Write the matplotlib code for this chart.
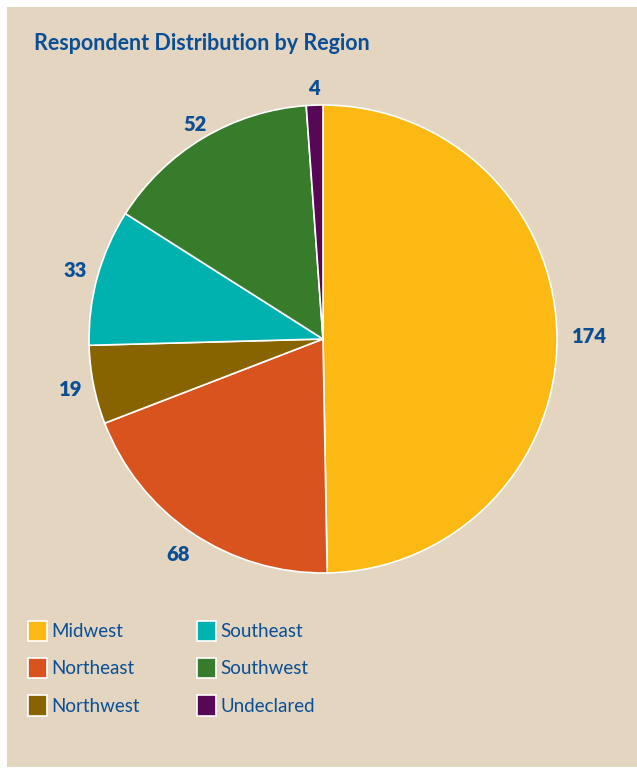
import numpy as np
import matplotlib.pyplot as plt
from matplotlib.patches import Patch, Rectangle

plt.rcParams['font.family'] = ['Lato', 'DejaVu Sans']

# data
regions = ['Midwest', 'Northeast', 'Northwest', 'Southeast', 'Southwest', 'Undeclared']
counts = [174, 68, 19, 33, 52, 4]
colors = ['#FDB913', '#D9531E', '#876400', '#00B2AF', '#367C2B', '#560856']
title = 'Respondent Distribution by Region'

txt_col = '#0A4F96'
bg = '#E3D5BF'
label_r = [1.14, 1.11, 1.10, 1.10, 1.07, 1.07]

fig = plt.figure(figsize=(6.37, 7.69), dpi=100)
fig.patch.set_facecolor('white')
fig.patches.append(Rectangle((7 / 637, 2 / 769), 1, 760 / 769, transform=fig.transFigure,
                             facecolor=bg, edgecolor='none', zorder=-5))

ax = fig.add_axes([89 / 637, 196 / 769, 468 / 637, 468 / 769])
ax.set_zorder(2)
total = sum(counts)
wedges, _, autotexts = ax.pie(counts, colors=colors, startangle=90, counterclock=False,
                              autopct=lambda p: '%d' % round(p * total / 100), pctdistance=1.11,
                              wedgeprops=dict(edgecolor='white', linewidth=1.2))
for w, t, r in zip(wedges, autotexts, label_r):
    ang = np.deg2rad((w.theta1 + w.theta2) / 2)
    t.set_position((r * np.cos(ang), r * np.sin(ang)))
    t.set_color(txt_col)
    t.set_fontsize(14.5)
    t.set_fontweight('heavy')
ax.set_xlim(-1, 1)
ax.set_ylim(-1, 1)
ax.set_aspect('equal')
ax.axis('off')

fig.text(34 / 637, 1 - 43 / 769, title, color=txt_col, fontsize=15.5, fontweight='bold',
         va='center', ha='left')

handles = [Patch(facecolor=c, edgecolor='white', linewidth=1.2) for c in colors]
leg = fig.legend(handles, regions, ncol=2,
                 loc='upper left', bbox_to_anchor=(20 / 637, 1 - 613 / 769),
                 frameon=False, fontsize=13.5, labelcolor=txt_col,
                 handlelength=1.05, handleheight=1.3, handletextpad=0.2,
                 labelspacing=0.9, columnspacing=3.05, borderaxespad=0)

fig.savefig('out.png', dpi=100, facecolor='white')
